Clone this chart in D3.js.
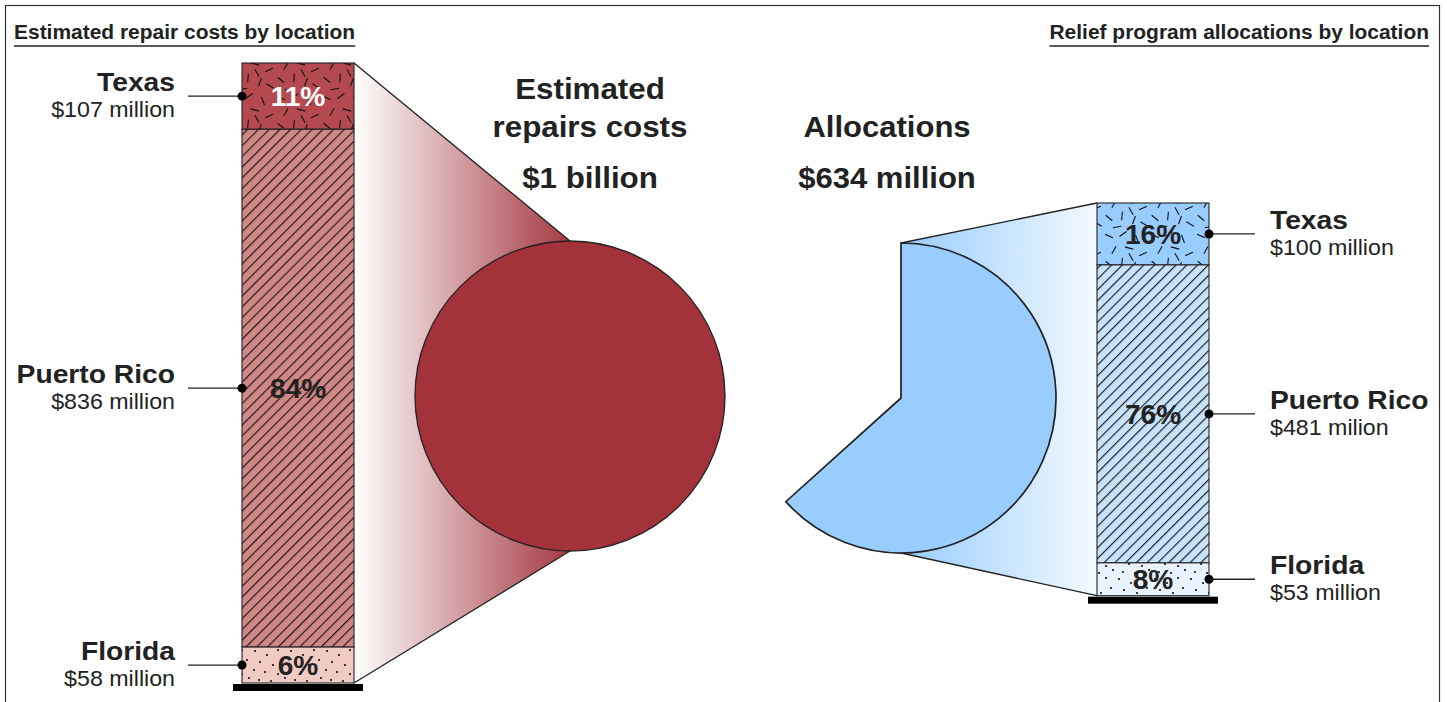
<!DOCTYPE html>
<html>
<head>
<meta charset="utf-8">
<script src="https://cdn.jsdelivr.net/npm/d3@7"></script>
<style>
  html, body { margin: 0; padding: 0; background: #fff; }
  svg { display: block; font-family: "Liberation Sans", Arial, Helvetica, sans-serif; }
</style>
</head>
<body>
<svg id="chart" width="1447" height="702"></svg>
<script>
// ---------- data ----------
const locations = ["Texas", "Puerto Rico", "Florida"];
const repairCosts = [107, 836, 58];           // $ millions
const allocations = [100, 481, 53];           // $ millions
const repairValueLabels = ["$107 million", "$836 million", "$58 million"];
const allocationValueLabels = ["$100 million", "$481 milion", "$53 million"];
const panelTitles = ["Estimated repair costs by location", "Relief program allocations by location"];
const repairTitleLines = ["Estimated", "repairs costs", "$1 billion"];
const allocationTitleLines = ["Allocations", "$634 million"];

// ---------- setup ----------
const svg = d3.select("#chart");
const ink = "#222";
const repairTotal = d3.sum(repairCosts);
const allocTotal = d3.sum(allocations);

// shared scales (same px per million for both bars, same circle for both)
const hScale = d3.scaleLinear().domain([0, repairTotal]).range([0, 620]);
const rScale = d3.scaleSqrt().domain([0, repairTotal]).range([0, 155]);
const angleScale = d3.scaleLinear().domain([0, repairTotal]).range([0, 2 * Math.PI]);

const leftPalette = ["#b44a4f", "#d08886", "#f1cac4"];
const rightPalette = ["#99ccff", "#c8e2fc", "#e8f3fd"];
const patternKinds = ["dash", "hatch", "dots"];

const defs = svg.append("defs");

// text helper: horizontally stretched text anchored at (x,y)
function txt(parent, x, y, anchor, size, weight, sx, text, fill) {
  return parent.append("text")
    .attr("transform", `translate(${x},${y}) scale(${sx},1)`)
    .attr("text-anchor", anchor).attr("font-size", size).attr("font-weight", weight)
    .attr("fill", fill || ink).text(text);
}

// pattern tiles (style only)
const dashMarks = [[5,6,25],[19,4,-35],[33,9,70],[10,20,-60],[25,18,15],[39,24,-25],[5,34,40],[18,32,95],[30,36,-70],[40,40,30],[13,43,-10],[27,27,60]];
const dotMarks = [[3,3],[15,7],[26,2],[8,14],[21,17],[2,22],[13,24],[26,26],[7,32],[19,33],[31,12],[33,30]];

function makePatterns(prefix, palette) {
  palette.forEach((col, i) => {
    const kind = patternKinds[i];
    const id = prefix + "-" + kind;
    let p;
    if (kind === "dash") {
      p = defs.append("pattern").attr("id", id).attr("patternUnits", "userSpaceOnUse")
        .attr("width", 46).attr("height", 46);
      p.append("rect").attr("width", 46).attr("height", 46).attr("fill", col);
      dashMarks.forEach(([x, y, a]) => {
        const rad = a * Math.PI / 180, L = 4.3;
        p.append("line")
          .attr("x1", x - L * Math.cos(rad)).attr("y1", y - L * Math.sin(rad))
          .attr("x2", x + L * Math.cos(rad)).attr("y2", y + L * Math.sin(rad))
          .attr("stroke", "#111").attr("stroke-width", 1.1);
      });
    } else if (kind === "hatch") {
      p = defs.append("pattern").attr("id", id).attr("patternUnits", "userSpaceOnUse")
        .attr("width", 7.6).attr("height", 7.6).attr("patternTransform", "rotate(45)");
      p.append("rect").attr("width", 7.6).attr("height", 7.6).attr("fill", col);
      p.append("line").attr("x1", 0.6).attr("y1", 0).attr("x2", 0.6).attr("y2", 7.6)
        .attr("stroke", "#111").attr("stroke-width", 1.1);
    } else {
      p = defs.append("pattern").attr("id", id).attr("patternUnits", "userSpaceOnUse")
        .attr("width", 36).attr("height", 36);
      p.append("rect").attr("width", 36).attr("height", 36).attr("fill", col);
      dotMarks.forEach(([x, y]) => p.append("circle").attr("cx", x).attr("cy", y).attr("r", 1.1).attr("fill", "#111"));
    }
  });
}
makePatterns("L", leftPalette);
makePatterns("R", rightPalette);

// frame
svg.append("rect").attr("x", 5.5).attr("y", 5.5).attr("width", 1434).attr("height", 720)
  .attr("fill", "none").attr("stroke", "#333").attr("stroke-width", 1.2);

// panel titles with underline
function panelTitle(text, x, anchor) {
  const sx = 1.075;
  const t = txt(svg, x, 39, anchor, 19.5, "bold", sx, text);
  const w = t.node().getBBox().width * sx;
  const x0 = anchor === "start" ? x : x - w;
  svg.append("line").attr("x1", x0).attr("x2", x0 + w).attr("y1", 46).attr("y2", 46)
    .attr("stroke", ink).attr("stroke-width", 1.3);
}
panelTitle(panelTitles[0], 14, "start");
panelTitle(panelTitles[1], 1429, "end");

// ---------- geometry ----------
const barW = 112;
const left = { x: 242, top: 63, cx: 570, cy: 396 };
const right = { x: 1097, top: 203, cx: 901, cy: 398 };
left.bottom = left.top + hScale(repairTotal);
right.bottom = right.top + hScale(allocTotal);
const R = rScale(repairTotal);

// gradients
const gL = defs.append("linearGradient").attr("id", "gradL").attr("gradientUnits", "userSpaceOnUse")
  .attr("x1", left.x + barW).attr("x2", left.cx + 5).attr("y1", 0).attr("y2", 0);
gL.append("stop").attr("offset", 0).attr("stop-color", "#ffffff");
gL.append("stop").attr("offset", 1).attr("stop-color", "#a3343e");
const gR = defs.append("linearGradient").attr("id", "gradR").attr("gradientUnits", "userSpaceOnUse")
  .attr("x1", right.cx).attr("x2", right.x).attr("y1", 0).attr("y2", 0);
gR.append("stop").attr("offset", 0).attr("stop-color", "#99ccff");
gR.append("stop").attr("offset", 1).attr("stop-color", "#f3f9ff");

// funnels
const line = d3.line();
const lf = [[left.x + barW, left.top], [left.cx, left.cy - R], [left.cx, left.cy + R], [left.x + barW, left.bottom]];
svg.append("path").attr("d", line(lf) + "Z").attr("fill", "url(#gradL)");
svg.append("path").attr("d", line([lf[0], lf[1]])).attr("stroke", ink).attr("stroke-width", 1.3).attr("fill", "none");
svg.append("path").attr("d", line([lf[3], lf[2]])).attr("stroke", ink).attr("stroke-width", 1.3).attr("fill", "none");

const rf = [[right.cx, right.cy - R], [right.x, right.top], [right.x, right.bottom], [right.cx, right.cy + R]];
svg.append("path").attr("d", line(rf) + "Z").attr("fill", "url(#gradR)");
svg.append("path").attr("d", line([rf[0], rf[1]])).attr("stroke", ink).attr("stroke-width", 1.3).attr("fill", "none");
svg.append("path").attr("d", line([rf[3], rf[2]])).attr("stroke", ink).attr("stroke-width", 1.3).attr("fill", "none");

// circle (total repair costs) and pie wedge (allocations as share of same circle)
const arc = d3.arc().innerRadius(0).outerRadius(R);
svg.append("path").attr("transform", `translate(${left.cx},${left.cy})`)
  .attr("d", arc({ startAngle: 0, endAngle: angleScale(repairTotal) }))
  .attr("fill", "#a3323b").attr("stroke", ink).attr("stroke-width", 1.3);
svg.append("path").attr("transform", `translate(${right.cx},${right.cy})`)
  .attr("d", arc({ startAngle: 0, endAngle: angleScale(allocTotal) }))
  .attr("fill", "#99ccff").attr("stroke", ink).attr("stroke-width", 1.7).attr("stroke-linejoin", "miter");

// center titles
repairTitleLines.forEach((t, i) => txt(svg, 590, [99, 137, 188][i], "middle", 29, "bold", 1.08, t));
allocationTitleLines.forEach((t, i) => txt(svg, 887, [137, 188][i], "middle", 29, "bold", 1.07, t));

// ---------- stacked bars ----------
function drawBar(values, cfg, prefix, valueLabels, side) {
  const total = d3.sum(values);
  let acc = 0;
  const segs = values.map((v, i) => {
    const s = { i, v, y0: cfg.top + hScale(acc), y1: cfg.top + hScale(acc + v) };
    acc += v; return s;
  });
  const g = svg.append("g");
  g.selectAll("rect.seg").data(segs).join("rect").attr("class", "seg")
    .attr("x", cfg.x).attr("width", barW)
    .attr("y", d => d.y0).attr("height", d => d.y1 - d.y0)
    .attr("fill", d => `url(#${prefix}-${patternKinds[d.i]})`)
    .attr("stroke", ink).attr("stroke-width", 1.1);
  // base
  g.append("rect").attr("x", cfg.x - 9).attr("width", barW + 18)
    .attr("y", cfg.bottom + 1).attr("height", 7).attr("fill", "#000");
  segs.forEach(d => {
    const ym = (d.y0 + d.y1) / 2;
    // percentage label
    txt(g, cfg.x + barW / 2, ym + 10, "middle", 27, "bold", 1.04,
      Math.round(d.v / total * 100) + "%", (prefix === "L" && d.i === 0) ? "#fff" : ink);
    // leader and labels
    const ex = side === "left" ? cfg.x : cfg.x + barW;
    const lx = side === "left" ? cfg.x - 54 : cfg.x + barW + 46;
    g.append("line").attr("x1", ex).attr("x2", lx).attr("y1", ym).attr("y2", ym)
      .attr("stroke", ink).attr("stroke-width", 1.3);
    g.append("circle").attr("cx", ex).attr("cy", ym).attr("r", 4.5).attr("fill", "#000");
    const tx = side === "left" ? 175 : 1270;
    const anchor = side === "left" ? "end" : "start";
    txt(g, tx, ym - 5, anchor, 25, "bold", 1.13, locations[d.i]);
    txt(g, tx, ym + 21, anchor, 21.5, "normal", 1.08, valueLabels[d.i]);
  });
}
drawBar(repairCosts, left, "L", repairValueLabels, "left");
drawBar(allocations, right, "R", allocationValueLabels, "right");
</script>
</body>
</html>
